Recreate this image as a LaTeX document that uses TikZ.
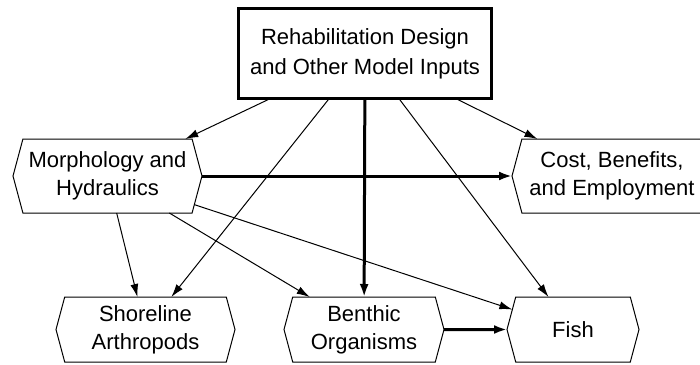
\documentclass[tikz,border=0pt]{standalone}
\usepackage{fontspec}
\setmainfont{Liberation Sans}
\usetikzlibrary{shapes.symbols,arrows.meta}
\begin{document}
\begin{tikzpicture}[x=1pt,y=-1pt,
  every node/.style={font=\fontsize{22}{28}\selectfont, align=center, inner sep=0pt, outer sep=0pt},
  hexa/.style={draw, line width=1pt, signal, signal to=west and east,
    signal pointer angle=150},
  inputbox/.style={draw, line width=3pt, minimum width=253pt, minimum height=90pt,
    font=\fontsize{22}{30}\selectfont},
  thinarrow/.style={line width=1pt, -{Latex[length=13pt,width=8pt]}},
  thickarrow/.style={line width=3pt, -{Latex[length=13pt,width=9pt]}}
]
\useasboundingbox (0,0) rectangle (700,364);

% model inputs
\node[inputbox] (inputs) at (365,53.5) {Rehabilitation Design\\and Other Model Inputs};

% intermediate models
\node[hexa, minimum width=189pt, minimum height=74pt] (morph) at (107.5,176) {Morphology and\\Hydraulics};
\node[hexa, minimum width=200pt, minimum height=74pt] (cost) at (612,176) {Cost, Benefits,\\and Employment};

% biological responses
\node[hexa, minimum width=179pt, minimum height=65pt] (shore) at (145.5,329.5) {Shoreline\\Arthropods};
\node[hexa, minimum width=160pt, minimum height=65pt] (benth) at (364,329.5) {Benthic\\Organisms};
\node[hexa, minimum width=132pt, minimum height=65pt] (fish) at (573,329.5) {Fish};

% links from the inputs
\draw[thinarrow] (inputs) -- (morph);
\draw[thinarrow] (inputs) -- (shore);
\draw[thickarrow] (inputs) -- (benth);
\draw[thinarrow] (inputs) -- (fish);
\draw[thinarrow] (inputs) -- (cost);

% links from morphology and hydraulics
\draw[thickarrow] (morph) -- (cost);
\draw[thinarrow] (morph) -- (shore);
\draw[thinarrow] (morph) -- (benth);
\draw[thinarrow] (morph) -- (fish);

% benthic organisms feed fish
\draw[thickarrow] (benth) -- (fish);
\end{tikzpicture}
\end{document}
